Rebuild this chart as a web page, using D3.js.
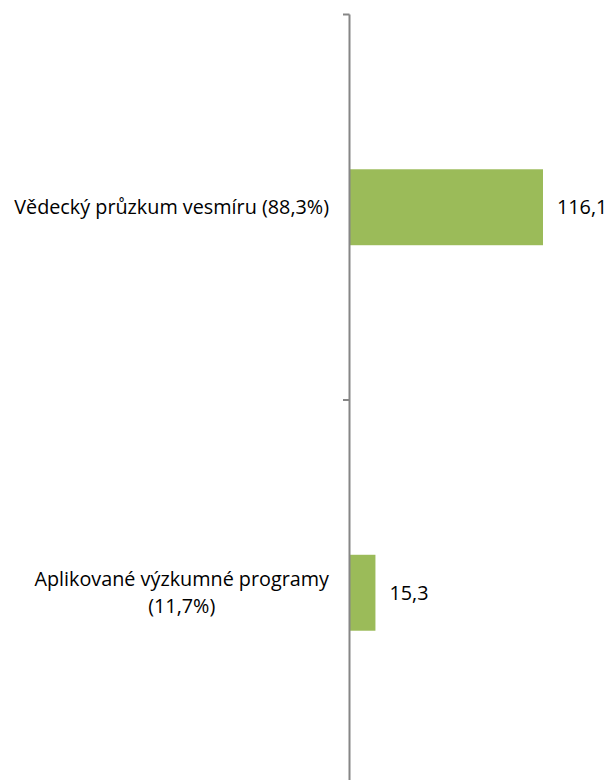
<!DOCTYPE html>
<html>
<head>
<meta charset="utf-8">
<script src="https://cdn.jsdelivr.net/npm/d3@7"></script>
<style>
  body { margin: 0; background: #fff; }
  svg text { font-family: "Open Sans", Lato, sans-serif; fill: #000; }
</style>
</head>
<body>
<svg id="chart" width="613" height="780"></svg>
<script>
// data
var categories = [
  ["Vědecký průzkum vesmíru (88,3%)"],
  ["Aplikované výzkumné programy", "(11,7%)"]
];
var values = [116.1, 15.3];
var valueLabels = ["116,1", "15,3"];

var width = 613, height = 780;
var axisX = 350;
var fontSize = 19.8;

var svg = d3.select("#chart");

// category band runs past the bottom of the picture, like the original
var y = d3.scaleBand()
    .domain(d3.range(categories.length))
    .range([14.5, 785.5])
    .paddingInner(0.803)
    .paddingOuter(0.4015);

var x = d3.scaleLinear()
    .domain([0, 140])
    .range([axisX, axisX + 193 * 140 / 116.1]);

// bars
svg.append("g")
    .selectAll("rect")
    .data(values)
    .enter().append("rect")
    .attr("x", x(0))
    .attr("y", function(d, i) { return y(i); })
    .attr("width", function(d) { return x(d) - x(0); })
    .attr("height", y.bandwidth())
    .attr("fill", "#9bbb59");

// axis line + ticks at band boundaries
var axis = svg.append("g").attr("stroke", "#868686").attr("stroke-width", 2);
axis.append("line")
    .attr("x1", axisX - 0.5).attr("x2", axisX - 0.5)
    .attr("y1", 14.5).attr("y2", height);
var step = y.step();
d3.range(categories.length + 1).forEach(function(i) {
    var ty = 14.5 + i * step;
    axis.append("line")
        .attr("x1", axisX - 7).attr("x2", axisX - 0.5)
        .attr("y1", ty).attr("y2", ty);
});

// value labels
svg.append("g")
    .selectAll("text")
    .data(values)
    .enter().append("text")
    .attr("x", function(d) { return x(d) + 14; })
    .attr("y", function(d, i) { return y(i) + y.bandwidth() / 2; })
    .attr("dy", "0.35em")
    .attr("font-size", fontSize)
    .text(function(d, i) { return valueLabels[i]; });

// category labels: block right-aligned, lines centred inside it
var labelRight = 329;
var lineH = 27.5;
categories.forEach(function(lines, i) {
    var g = svg.append("g");
    var texts = lines.map(function(l) {
        return g.append("text").attr("font-size", fontSize).text(l);
    });
    var maxW = d3.max(texts, function(t) { return t.node().getComputedTextLength(); });
    var cx = labelRight - maxW / 2;
    var cy = y(i) + y.bandwidth() / 2;
    texts.forEach(function(t, j) {
        t.attr("x", cx)
         .attr("text-anchor", "middle")
         .attr("y", cy + (j - (lines.length - 1) / 2) * lineH)
         .attr("dy", "0.35em");
    });
});
</script>
</body>
</html>
